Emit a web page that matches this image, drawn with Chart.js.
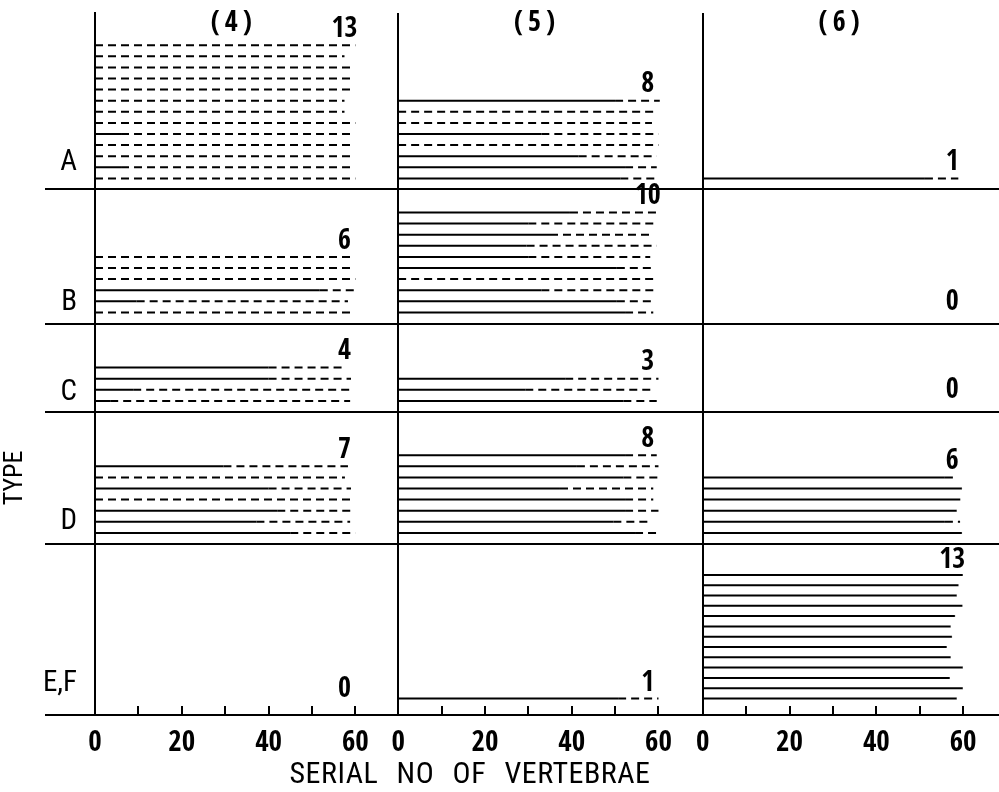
<!DOCTYPE html>
<html>
<head>
<meta charset="utf-8">
<script src="https://cdn.jsdelivr.net/npm/chart.js@4.4.1/dist/chart.umd.min.js"></script>
<style>
  body { margin: 0; background: #fff; }
  #wrap { width: 999px; height: 792px; }
</style>
</head>
<body>
<div id="wrap"><canvas id="vertebraeChart" width="999" height="792"></canvas></div>
<script>
const columnNames = ['(4)', '(5)', '(6)'];
const typeNames = ['A', 'B', 'C', 'D', 'E,F'];
const xTickValues = [0, 10, 20, 30, 40, 50, 60];
const xTickLabels = [0, 20, 40, 60];

// each series: [end of solid part, end of dashed part], top line first
const lines4A = [[0, 60], [0, 57.5], [0, 59.5], [0, 59.5], [0, 59], [0, 57.5], [0, 57.5],
                 [0, 60], [6, 59], [0, 59.5], [0, 59], [6, 59.5], [0, 60]];
const lines5A = [[50, 60.3], [0, 59.2], [0, 58.5], [33, 60], [0, 60], [41.6, 59.6], [52.3, 59.6], [51.2, 59.2]];
const lines6A = [[51.2, 58.9]];

const lines4B = [[0, 59.5], [0, 58.8], [0, 60], [51.8, 60], [9.6, 58.3], [0, 59]];
const lines5B = [[39.6, 60], [30, 58.8], [35, 58.4], [29.6, 59.6], [30, 58.1],
                 [50.4, 58.8], [0, 59.6], [33, 58.8], [50.4, 58.8], [52.3, 58.8]];
const lines6B = [];

const lines4C = [[40, 57], [40, 59], [8.8, 59.4], [3.5, 58.8]];
const lines5C = [[38.5, 60], [29.3, 59.2], [51.9, 59.6]];
const lines6C = [];

const lines4D = [[29.6, 58.3], [0, 57.6], [40, 59], [0, 58.8], [42, 59], [37.2, 58.8], [45, 60]];
const lines5D = [[52.3, 59.6], [41.2, 60], [51.9, 60], [37.3, 58.8], [52.3, 58.8], [52.3, 60], [49.6, 58.4], [54.6, 60]];
const lines6D = [[55.8, 58.6], [59.7, 59.7], [59.3, 59.3], [58.5, 58.5], [55.8, 59.3], [59.7, 59.7]];

const lines4EF = [];
const lines5EF = [[50.7, 60]];
const lines6EF = [[59.9, 59.9], [58.9, 58.9], [58.5, 58.5], [59.8, 59.8], [58.1, 58.1], [57.1, 57.1], [57.4, 57.4],
                  [56.2, 56.2], [57.1, 57.1], [59.9, 59.9], [56.9, 56.9], [59.9, 59.9], [58.5, 58.5]];

const panels = [
    [lines4A, lines5A, lines6A],
    [lines4B, lines5B, lines6B],
    [lines4C, lines5C, lines6C],
    [lines4D, lines5D, lines6D],
    [lines4EF, lines5EF, lines6EF]
];

// layout of the figure (pixels)
const boldFamily = "'Open Sans Condensed', 'Roboto Condensed', 'DejaVu Sans Condensed', sans-serif";
const plainFamily = "'Roboto Condensed', 'DejaVu Sans Condensed', sans-serif";
const colIds = ['x4', 'x5', 'x6'];
const rowIds = ['yA', 'yB', 'yC', 'yD', 'yEF'];
const colWidths = [303.2, 304.7, 296.3];
const pxPerUnit = 4.34;
const rowHeights = [176.5, 134, 88.5, 132, 171];
const slotPx = [11.1, 11.1, 11.1, 11.1, 10.3];
const rowMin = [0, 0, 0, 0, -0.6];
const labelAt = [2.4, 1.9, 1.7, 2.0, 2.4];

const noPadding = s => {
    s.paddingLeft = 0;
    s.paddingRight = 0;
    s.paddingTop = 0;
    s.paddingBottom = 0;
};

const scales = {};
colIds.forEach((id, c) => {
    scales[id] = {
        type: 'linear',
        position: 'bottom',
        stack: 'cols',
        stackWeight: colWidths[c],
        min: 0,
        max: colWidths[c] / pxPerUnit,
        afterBuildTicks: s => { s.ticks = xTickValues.map(v => ({ value: v })); },
        afterFit: s => { s.height = 77; noPadding(s); },
        grid: {
            color: ctx => ctx.tick && ctx.tick.value === 0 ? '#000' : 'rgba(0,0,0,0)',
            tickColor: '#000',
            lineWidth: 2,
            tickLength: -9
        },
        border: { color: '#000', width: 2 },
        ticks: {
            autoSkip: false,
            maxRotation: 0,
            padding: 20,
            color: '#000',
            font: { family: boldFamily, size: 29, weight: 'bold' },
            callback: v => xTickLabels.includes(v) ? String(v) : ''
        }
    };
});

typeNames.forEach((name, r) => {
    const min = rowMin[r];
    const max = min + rowHeights[r] / slotPx[r];
    scales[rowIds[r]] = {
        type: 'linear',
        position: 'left',
        stack: 'rows',
        stackWeight: rowHeights[r],
        weight: typeNames.length - r,
        min,
        max,
        afterBuildTicks: s => { s.ticks = [{ value: min }, { value: labelAt[r] }]; },
        afterFit: s => { s.width = 95; noPadding(s); },
        grid: {
            color: ctx => ctx.tick && ctx.tick.value === min ? '#000' : 'rgba(0,0,0,0)',
            lineWidth: 2,
            tickLength: 50
        },
        border: { color: '#000', width: 2 },
        ticks: {
            padding: -32,
            color: '#000',
            font: { family: plainFamily, size: 29 },
            callback: v => v === min ? '' : name
        },
        title: {
            display: r === 3,
            text: 'TYPE',
            color: '#000',
            font: { family: plainFamily, size: 26 },
            padding: { top: 0, bottom: 0 }
        }
    };
});

const datasets = [];
panels.forEach((row, r) => row.forEach((lines, c) => {
    lines.forEach(([solidEnd, end], k) => {
        const level = lines.length - k;
        datasets.push({
            xAxisID: colIds[c],
            yAxisID: rowIds[r],
            data: [{ x: 0, y: level }, { x: solidEnd, y: level }, { x: end, y: level }],
            borderColor: '#000',
            borderWidth: 2,
            borderCapStyle: 'butt',
            pointRadius: 0,
            fill: false,
            tension: 0,
            segment: { borderDash: ctx => ctx.p0DataIndex === 1 ? [8, 5] : [] }
        });
    });
}));

const panelText = {
    id: 'panelText',
    afterDatasetsDraw(chart) {
        const ctx = chart.ctx;
        ctx.save();
        ctx.fillStyle = '#000';
        ctx.textAlign = 'center';
        ctx.textBaseline = 'middle';
        ctx.font = 'bold 28px ' + boldFamily;
        panels.forEach((row, r) => row.forEach((lines, c) => {
            const xs = chart.scales[colIds[c]];
            const ys = chart.scales[rowIds[r]];
            const n = lines.length;
            ctx.fillText(String(n), xs.getPixelForValue(57.5), ys.getPixelForValue(Math.max(n, 0.5) + 1.4));
        }));
        ctx.letterSpacing = '5px';
        columnNames.forEach((name, c) => {
            const xs = chart.scales[colIds[c]];
            ctx.fillText(name, xs.getPixelForValue(32), 24);
        });
        ctx.letterSpacing = '0.5px';
        ctx.wordSpacing = '11px';
        ctx.font = '30px ' + plainFamily;
        ctx.fillText('SERIAL NO OF VERTEBRAE', 470, 775);
        ctx.restore();
    }
};

new Chart(document.getElementById('vertebraeChart'), {
    type: 'line',
    data: { datasets },
    options: {
        responsive: false,
        animation: false,
        devicePixelRatio: 1,
        layout: { padding: { top: 13, right: 0, bottom: 0, left: 0 } },
        plugins: { legend: { display: false }, tooltip: { enabled: false } },
        scales
    },
    plugins: [panelText]
});
</script>
</body>
</html>
